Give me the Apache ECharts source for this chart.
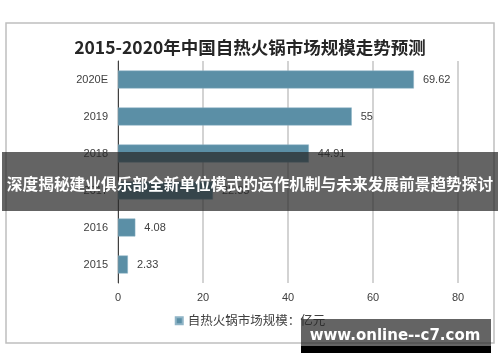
<!DOCTYPE html>
<html><head><meta charset="utf-8">
<script src="https://cdn.jsdelivr.net/npm/echarts@6/dist/echarts.min.js"></script>
<style>html,body{margin:0;padding:0;background:#fff}#c{width:500px;height:362px}</style>
</head><body><div id="c"></div>
<script>
var categories = ['2015','2016','2017','2018','2019','2020E'];
var values = [2.33, 4.08, 22.33, 44.91, 55, 69.62];
var xTicks = [0, 20, 40, 60, 80];
var titleText = '2015-2020年中国自热火锅市场规模走势预测';
var seriesName = '自热火锅市场规模：亿元';
var bannerText = '深度揭秘建业俱乐部全新单位模式的运作机制与未来发展前景趋势探讨';
var watermarkText = 'www.online--c7.com';

var chart = echarts.init(document.getElementById('c'), null, {renderer:'canvas'});
var font = '"Liberation Sans", Arial, "Noto Sans CJK SC", sans-serif';
chart.setOption({
  animation:false,
  textStyle:{fontFamily:font},
  title:{text:titleText,left:'center',top:34,textStyle:{fontSize:17.5,fontWeight:'bold',color:'#262626',fontFamily:'"Noto Sans CJK SC", sans-serif'}},
  legend:{bottom:30,left:'center',itemWidth:7,itemHeight:7,icon:'rect',itemGap:5,
    textStyle:{fontSize:12.5,color:'#404040',fontFamily:'"Noto Sans CJK SC", sans-serif'},data:[seriesName]},
  grid:{left:118,right:42,top:61,bottom:79,containLabel:false},
  xAxis:{type:'value',min:xTicks[0],max:xTicks[xTicks.length-1],interval:20,
    axisLine:{show:false},axisTick:{show:false},
    axisLabel:{fontSize:11,color:'#404040',margin:9},
    splitLine:{show:true,lineStyle:{color:'#c4c4c4',width:1.5}}},
  yAxis:{type:'category',data:categories,
    axisLine:{show:true,lineStyle:{color:'#404040',width:1}},axisTick:{show:false},
    axisLabel:{fontSize:11,color:'#404040',margin:10}},
  series:[{name:seriesName,type:'bar',data:values,barWidth:18,
    itemStyle:{color:'#5B8FA6',borderColor:'#8fb4c6',borderWidth:0.5},
    label:{show:true,position:'right',distance:9,fontSize:11,color:'#404040',
      formatter:function(p){return String(p.value);}}}],
  graphic:[
    {type:'rect',shape:{x:6,y:23,width:488,height:320},style:{fill:'none',stroke:'#bfbfbf',lineWidth:1.5},z:-1},
    {type:'rect',shape:{x:2,y:152,width:496,height:59},style:{fill:'rgba(40,40,40,0.72)'},z:100},
    {type:'text',x:250,y:184,style:{text:bannerText,fill:'#fff',fontSize:15.7,fontWeight:'bold',
      fontFamily:'"Noto Sans CJK SC", sans-serif',align:'center',verticalAlign:'middle'},z:101},
    {type:'rect',shape:{x:301,y:319,width:190,height:28},style:{fill:'rgba(40,40,40,0.72)'},z:100},
    {type:'rect',shape:{x:301,y:346,width:190,height:7},style:{fill:'#000'},z:100},
    {type:'text',x:395,y:336,style:{text:watermarkText,fill:'#fff',fontSize:15,fontWeight:'bold',
      fontFamily:'"DejaVu Sans", sans-serif',align:'center',verticalAlign:'middle'},z:101}
  ]
});
</script></body></html>
